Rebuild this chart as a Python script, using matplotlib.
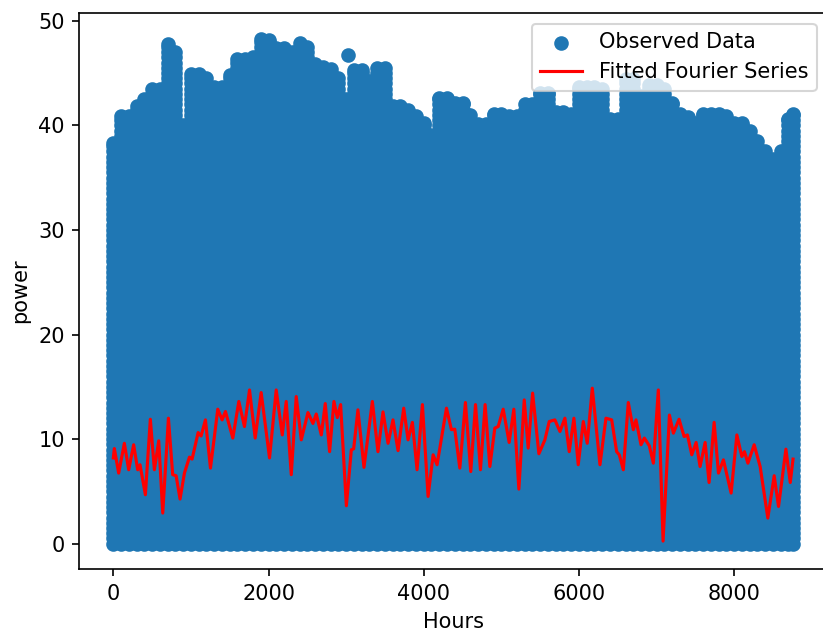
import numpy as np
import matplotlib
matplotlib.use("Agg")
import matplotlib.pyplot as plt

# Upper envelope of the hourly power observations (peak value per 100-hour block)
peak_hours = [0, 100, 200, 300, 400, 500, 600, 700, 800, 900,
              1000, 1100, 1200, 1300, 1400, 1500, 1600, 1700, 1800, 1900,
              2000, 2100, 2200, 2300, 2400, 2500, 2600, 2700, 2800, 2900,
              3000, 3100, 3200, 3300, 3400, 3500, 3600, 3700, 3800, 3900,
              4000, 4100, 4200, 4300, 4400, 4500, 4600, 4700, 4800, 4900,
              5000, 5100, 5200, 5300, 5400, 5500, 5600, 5700, 5800, 5900,
              6000, 6100, 6200, 6300, 6400, 6500, 6600, 6700, 6800, 6900,
              7000, 7100, 7200, 7300, 7400, 7500, 7600, 7700, 7800, 7900,
              8000, 8100, 8200, 8300, 8400, 8500, 8600, 8700, 8759]
peak_power = [38.3, 40.9, 40.9, 41.8, 42.5, 43.5, 43.5, 47.8, 47.0, 40.0,
              44.9, 44.9, 44.5, 43.7, 43.7, 44.8, 46.3, 46.3, 46.5, 48.3,
              48.2, 47.4, 47.4, 47.0, 47.9, 47.5, 45.9, 45.6, 45.4, 44.5,
              42.5, 45.3, 45.3, 44.2, 45.5, 45.5, 41.8, 41.8, 41.5, 40.9,
              40.2, 39.1, 42.6, 42.6, 42.1, 42.1, 41.0, 40.1, 40.1, 41.1,
              41.1, 40.9, 40.9, 42.0, 42.0, 43.1, 43.1, 41.3, 41.3, 41.1,
              43.7, 43.7, 43.7, 43.5, 40.6, 40.6, 44.4, 44.4, 42.8, 43.9,
              43.9, 43.5, 42.1, 41.1, 40.8, 40.2, 41.1, 41.1, 41.1, 40.9,
              40.2, 40.2, 39.5, 38.5, 37.5, 36.8, 37.5, 40.6, 41.1]

# Isolated high readings sitting above the envelope
outlier_hours = [3030]
outlier_power = [46.7]

# Fitted Fourier series (hour, power)
fit_hours = [0, 13, 69, 142, 198, 262, 314, 344, 413, 477, 529, 585, 637, 710,
             765, 809, 860, 916, 981, 1015, 1093, 1131, 1187, 1252, 1346, 1402,
             1445, 1540, 1617, 1690, 1755, 1828, 1905, 2013, 2099, 2177, 2228,
             2293, 2357, 2422, 2508, 2572, 2615, 2680, 2731, 2787, 2843, 2886,
             2929, 3003, 3067, 3097, 3152, 3230, 3338, 3410, 3475, 3540, 3604,
             3669, 3742, 3798, 3854, 3914, 3983, 4056, 4121, 4172, 4293, 4357,
             4400, 4465, 4537, 4606, 4667, 4731, 4791, 4852, 4916, 4959, 5024,
             5101, 5161, 5226, 5295, 5346, 5403, 5484, 5561, 5617, 5690, 5755,
             5819, 5875, 5935, 5991, 6056, 6107, 6172, 6271, 6348, 6422, 6486,
             6520, 6572, 6636, 6701, 6735, 6800, 6843, 6907, 6959, 7023, 7084,
             7166, 7217, 7290, 7355, 7398, 7454, 7510, 7561, 7626, 7677, 7742,
             7798, 7862, 7961, 8035, 8099, 8133, 8177, 8258, 8335, 8434, 8516,
             8572, 8667, 8723, 8759]
fit_power = [8.2, 9.1, 6.75, 9.6, 7.07, 9.46, 7.07, 7.55, 4.68, 11.9, 7.07, 9.84,
             2.93, 12.0, 6.6, 6.5, 4.27, 6.75, 8.28, 8.09, 10.63, 10.3, 11.84,
             7.23, 12.86, 11.84, 12.64, 10.1, 13.6, 11.2, 14.7, 10.1, 14.45, 8.2,
             14.7, 10.4, 13.6, 6.6, 14.07, 9.93, 12.54, 11.5, 12.4, 10.4, 13.4,
             8.8, 13.6, 12.06, 13.3, 3.63, 8.98, 9.07, 12.8, 7.3, 13.6, 8.8, 12.6,
             9.6, 11.84, 8.9, 12.96, 9.93, 11.6, 7.07, 13.3, 4.52, 8.5, 7.55,
             12.96, 10.9, 10.95, 7.23, 13.5, 6.9, 13.3, 7.07, 13.3, 7.38, 11.05,
             11.2, 12.86, 9.68, 12.86, 5.22, 13.75, 9.14, 14.4, 8.6, 9.93, 11.68,
             11.84, 10.73, 12.0, 8.8, 12.0, 7.55, 11.68, 9.6, 14.87, 7.55, 12.0,
             11.84, 8.8, 8.5, 7.07, 13.5, 10.9, 11.84, 9.46, 10.1, 9.36, 7.7,
             14.7, 0.25, 12.3, 10.57, 11.9, 10.25, 10.4, 8.5, 9.68, 7.38, 9.68,
             5.85, 11.6, 6.75, 8.02, 4.84, 10.4, 8.34, 8.8, 7.7, 9.46, 7.38, 2.45,
             6.5, 3.56, 9.04, 5.85, 8.09]

# Observed points: each block is filled from zero up to its peak
obs_x, obs_y = [], []
for h, p in zip(peak_hours, peak_power):
    levels = np.append(np.arange(0.0, p, 0.5), p)
    obs_x.extend([h] * len(levels))
    obs_y.extend(levels)
obs_x.extend(outlier_hours)
obs_y.extend(outlier_power)

fig = plt.figure(figsize=(823 / 150, 631 / 150), dpi=150)
ax = fig.add_axes([0.0964, 0.0983, 0.9085, 0.8807])

ax.scatter(obs_x, obs_y, color="#1f77b4", label="Observed Data")
ax.plot(fit_hours, fit_power, color="red", label="Fitted Fourier Series")

ax.set_xlabel("Hours")
ax.set_ylabel("power")
ax.legend(loc="upper right")

fig.savefig("out.png", dpi=150)
